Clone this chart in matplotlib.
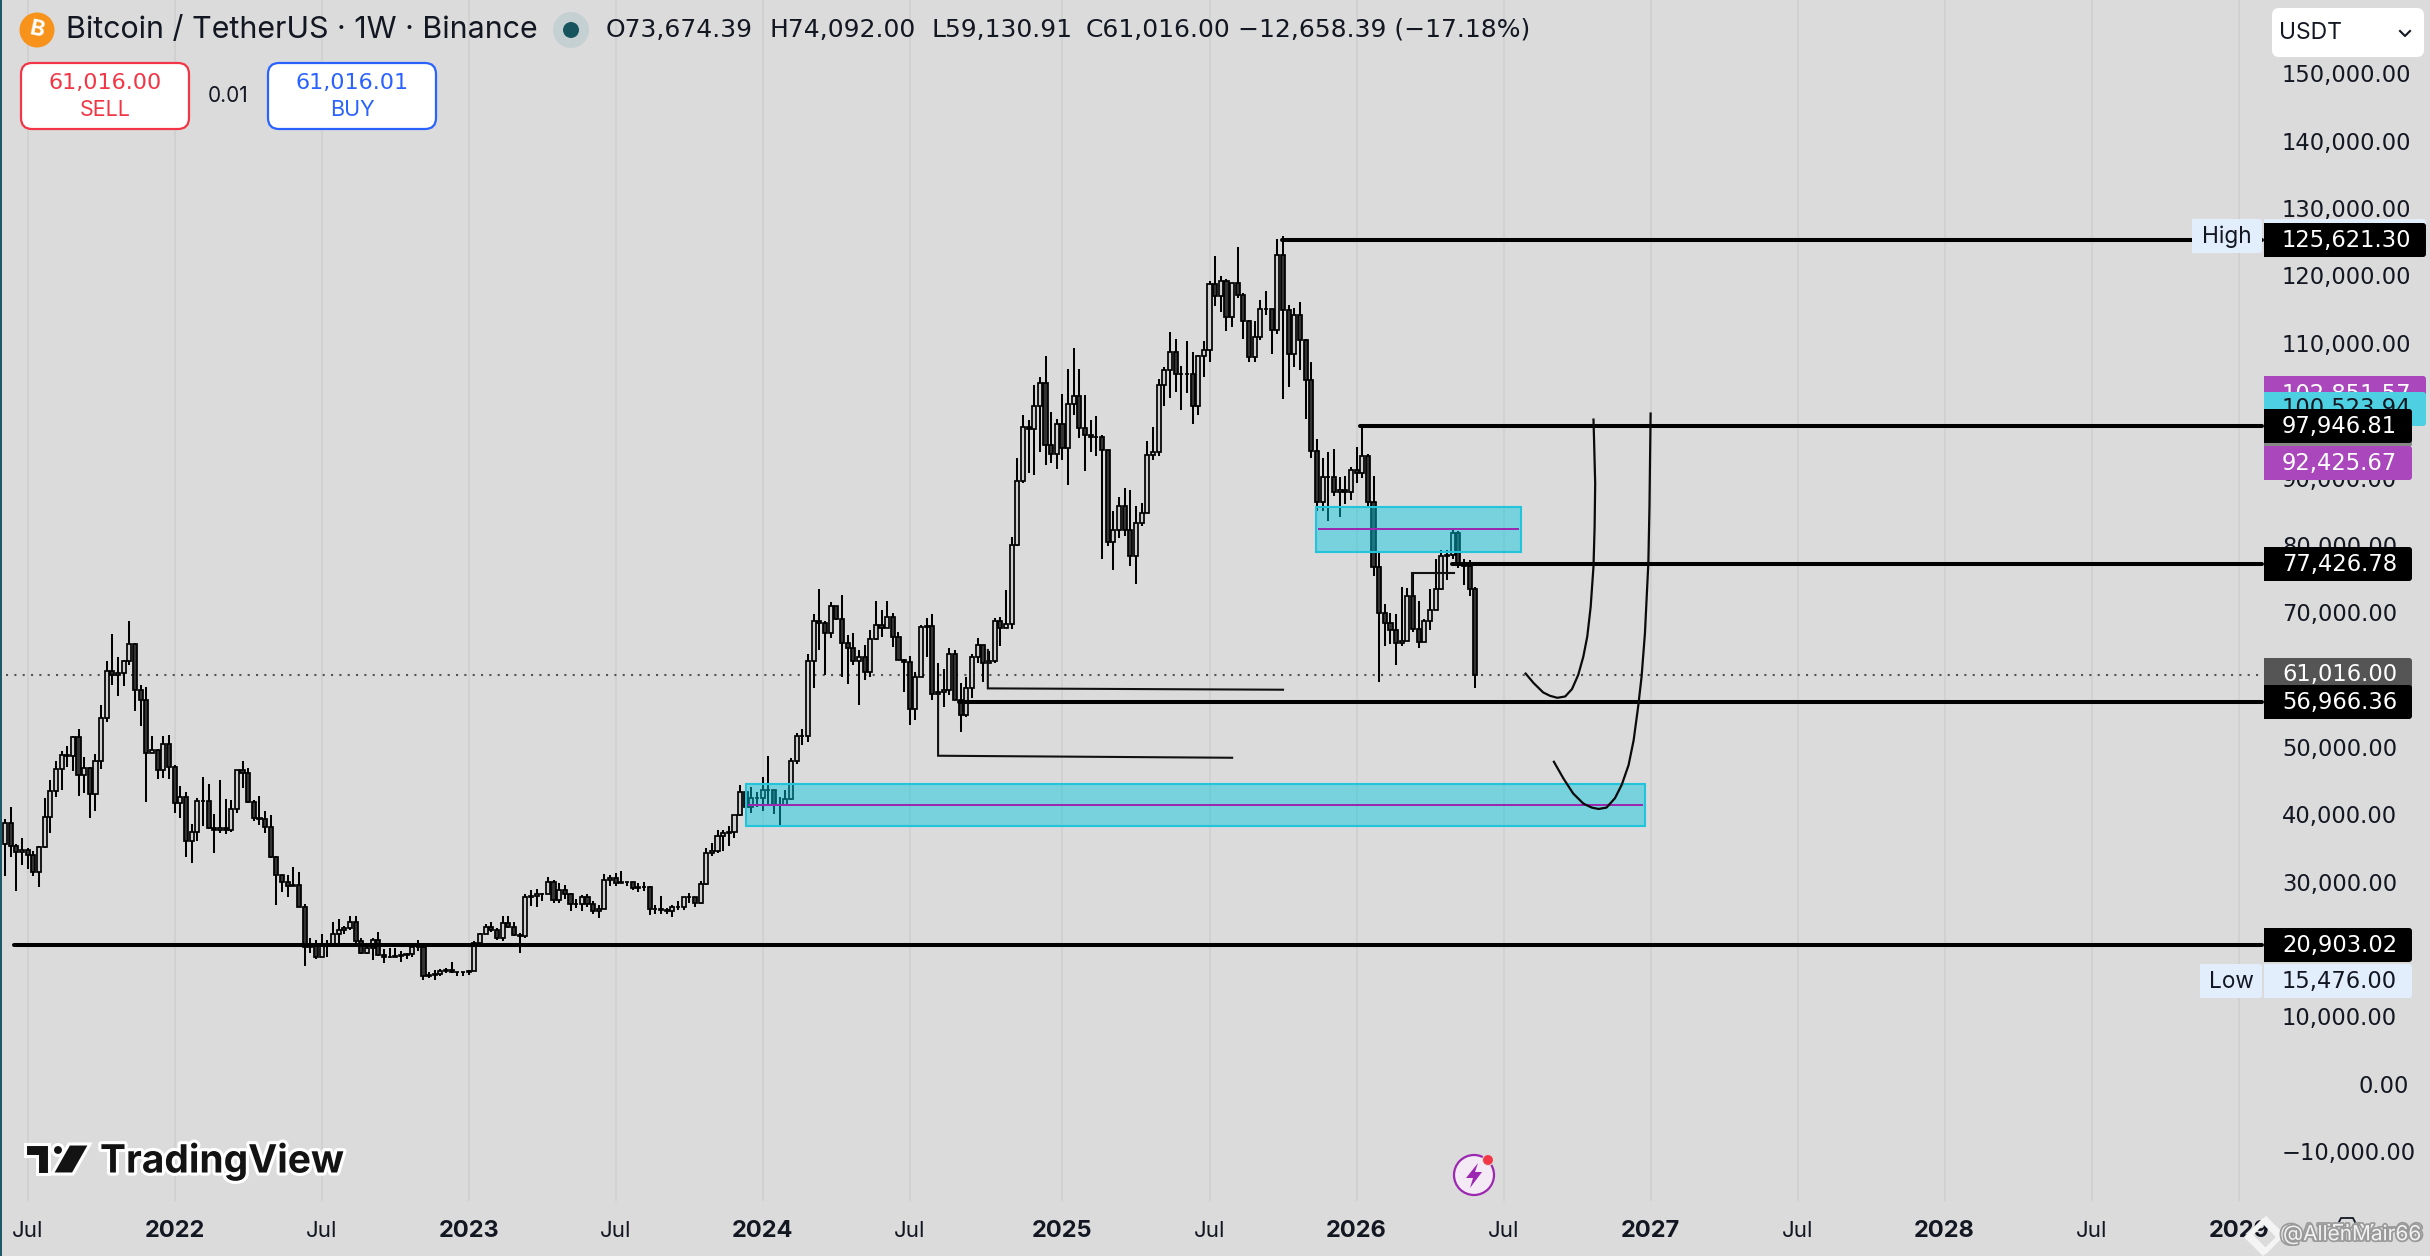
import matplotlib
matplotlib.use("Agg")
import matplotlib.pyplot as plt
import matplotlib.patheffects as pe
from matplotlib.patches import Circle, FancyBboxPatch, Rectangle, Polygon
from matplotlib.transforms import blended_transform_factory, Affine2D

# ---------- weekly candles (in thousands) ----------
first_open = 35.7
closes = [
38.9,35.5,34.6,34.9,34.2,31.7,35.3,39.7,43.6,46.9,49.0,48.8,51.6,46.0,47.0,43.1,48.0,54.4,61.3,60.8,
61.0,62.9,65.3,58.5,57.1,49.3,49.7,46.7,50.5,47.2,41.8,42.7,36.2,37.6,42.2,42.1,38.2,37.8,38.1,37.8,
41.0,46.7,46.3,42.0,39.6,39.4,38.3,33.9,31.2,30.1,29.6,29.7,26.5,20.6,20.7,19.1,20.9,21.0,22.4,23.1,
23.3,24.2,21.4,19.6,20.4,21.6,19.4,19.0,19.1,19.2,19.4,19.5,20.5,20.6,16.3,16.4,16.6,17.0,17.2,16.9,
16.8,16.8,17.0,21.1,22.4,23.5,23.0,21.8,24.1,23.5,22.3,22.1,27.9,28.1,28.3,28.4,30.1,27.5,29.0,28.4,
26.9,26.9,27.9,26.9,25.9,26.1,30.4,30.7,30.0,30.2,30.2,29.3,29.4,29.4,26.1,26.1,26.0,25.9,26.4,26.5,
27.9,27.9,27.0,29.9,34.4,34.7,36.9,37.4,37.5,40.0,43.5,41.3,42.6,42.6,43.7,43.7,41.6,41.6,42.4,48.1,
51.8,51.7,62.8,68.7,68.4,67.0,70.9,69.0,65.5,64.7,62.9,63.5,61.2,66.1,68.2,67.7,69.3,66.4,63.0,62.7,
55.8,60.5,67.8,68.0,58.0,58.3,58.6,63.9,57.1,54.8,58.9,63.4,65.2,62.6,62.8,68.7,67.7,68.3,80.0,89.4,
97.5,97.1,100.6,104.0,94.8,93.5,97.9,94.3,100.9,102.1,97.3,96.2,96.0,96.0,94.0,80.5,82.2,85.7,82.2,78.3,
83.3,84.8,93.3,93.8,103.7,105.9,108.5,105.3,105.3,105.3,100.6,107.9,108.8,118.6,116.9,119.0,113.7,118.7,117.0,113.1,
107.8,110.7,114.9,114.9,111.8,122.9,114.7,108.3,114.0,110.3,104.4,93.9,86.4,90.0,90.1,87.9,88.1,87.9,91.1,90.7,
93.2,86.3,76.7,70.0,68.5,67.4,65.5,65.8,72.5,67.6,65.7,68.7,70.4,73.5,78.3,78.5,81.8,77.3,76.9,73.5,
60.8]
highs = [
39.4,41.3,35.7,36.6,35.2,34.7,35.4,42.5,45.3,48.1,49.5,50.3,51.8,52.8,48.6,47.1,49.1,56.4,62.8,66.9,
63.5,63.0,68.8,65.5,59.3,59.0,51.8,49.8,51.7,51.9,47.5,44.4,43.4,38.8,42.6,45.7,44.7,40.2,45.3,42.4,
42.3,46.7,48.1,47.0,42.3,42.9,40.7,40.0,34.0,31.2,31.2,32.4,31.6,26.9,21.9,21.5,22.4,21.6,24.2,24.7,
23.6,25.1,25.1,21.9,20.6,21.9,22.7,20.2,20.4,20.4,20.0,19.6,21.1,21.5,20.9,16.8,17.1,17.3,17.4,18.3,
16.9,16.9,17.1,21.4,22.6,23.9,24.2,23.3,25.1,25.1,24.2,22.6,28.4,29.0,29.1,28.5,30.9,30.5,30.0,29.7,
28.5,27.6,28.2,28.4,27.3,26.8,31.3,31.2,31.5,31.8,30.2,30.0,30.0,30.2,29.6,26.7,28.1,26.3,26.8,27.3,
28.0,28.5,28.0,30.3,35.2,35.9,37.9,37.9,38.4,40.1,44.5,43.5,44.2,43.5,45.7,48.8,43.4,42.7,43.8,48.5,
52.2,52.8,63.8,69.8,73.5,68.7,71.5,70.9,72.6,66.7,67.0,64.5,65.2,67.4,71.7,70.4,71.7,70.0,67.1,63.1,
63.6,61.2,68.2,69.2,69.8,62.5,61.7,64.7,64.4,59.6,60.5,63.9,66.2,65.2,64.3,69.2,69.3,73.4,81.2,92.8,
99.3,98.5,103.7,104.8,108.0,99.6,98.6,102.4,106.0,109.1,106.0,102.2,98.5,99.1,96.2,94.1,85.0,87.1,88.4,88.2,
85.8,86.2,95.4,97.5,104.5,106.3,111.5,110.4,106.5,110.2,108.5,108.1,110.2,119.1,122.8,119.8,119.3,118.7,124.1,117.2,
113.3,113.1,116.3,117.5,114.9,125.3,125.7,115.5,115.0,115.9,110.4,107.0,95.7,92.8,93.7,94.2,90.1,90.2,91.5,94.5,
97.7,93.4,90.2,78.9,71.3,69.9,69.8,73.8,73.6,75.8,71.7,69.0,73.5,78.0,79.3,79.3,82.2,82.1,77.9,77.8,
73.8]
lows = [
31.0,33.9,28.8,32.7,32.0,31.0,29.4,35.2,37.4,42.7,43.8,47.2,46.5,42.8,43.3,39.6,40.7,46.8,53.8,59.3,
57.7,59.2,62.2,55.5,53.2,42.0,49.2,45.4,45.5,45.4,40.4,39.6,33.9,33.0,36.2,38.4,38.0,34.4,37.4,37.2,
37.5,40.3,44.0,41.8,39.1,38.6,37.4,33.7,26.7,28.6,28.0,29.5,26.4,17.7,19.7,18.8,19.1,19.0,21.0,21.1,
22.5,23.0,21.1,19.5,19.5,18.6,19.2,18.2,18.9,19.0,18.3,18.8,19.1,20.0,15.6,15.9,15.6,16.2,16.7,16.7,
16.3,16.3,16.4,17.1,20.5,22.5,22.8,21.6,21.4,23.3,22.1,19.6,21.9,26.6,26.5,27.3,28.3,27.1,27.0,27.7,
25.8,26.3,25.9,26.5,25.4,24.8,26.1,29.5,29.6,30.0,29.5,28.9,28.6,28.8,25.2,25.4,25.4,25.4,24.9,26.0,
26.0,27.1,26.5,26.9,29.7,34.0,34.4,34.8,35.5,36.7,39.9,41.0,40.4,41.3,40.7,41.6,40.2,38.6,41.6,42.3,
47.6,50.4,50.8,58.8,64.4,60.7,66.2,68.9,60.5,59.5,62.3,56.4,60.1,60.5,66.0,66.4,67.7,64.9,63.0,58.3,
53.4,54.1,60.5,63.4,57.0,57.8,56.0,57.8,57.1,52.4,54.5,57.4,62.5,59.7,62.5,62.6,65.1,67.7,67.5,79.9,
89.1,90.6,90.3,93.8,91.9,92.2,91.3,92.5,88.9,99.3,95.8,91.0,93.8,93.1,78.0,79.8,76.3,81.0,81.4,76.9,
74.3,82.8,84.8,92.5,93.1,100.5,101.7,102.7,100.0,102.5,97.9,99.3,104.8,107.1,115.4,114.4,111.6,112.3,116.5,110.4,
107.0,107.0,110.3,114.0,108.3,111.2,101.6,103.3,106.4,105.9,98.7,92.8,85.1,85.1,83.6,87.3,84.2,86.1,86.6,89.1,
89.9,85.7,75.4,59.8,65.0,65.4,62.3,65.1,65.8,67.2,64.8,65.6,67.4,70.4,73.4,74.8,78.0,76.6,74.1,72.4,
58.9]
candle_unit = 1003.6   # USDT per unit of the three lists above

# ---------- price levels and drawings ----------
y_ticks = [150000,140000,130000,120000,110000,90000,80000,70000,50000,40000,30000,10000,0,-10000]
y_tick_texts = ["150,000.00","140,000.00","130,000.00","120,000.00","110,000.00","90,000.00","80,000.00",
                "70,000.00","50,000.00","40,000.00","30,000.00","10,000.00","0.00","\u221210,000.00"]
x_ticks = [4,30,56,82,108,134,160,187,213,239,265,291,317,343,369,395]
x_tick_texts = ["Jul","2022","Jul","2023","Jul","2024","Jul","2025","Jul","2026","Jul","2027","Jul","2028","Jul","2029"]

level_prices = [125621.30, 97946.81, 77426.78, 56966.36, 20903.02]
level_starts = [225.8, 239.6, 255.8, 168.7, 1.6]
last_price = 61016.0

zone_left = [231.8, 131.0]
zone_right = [268.0, 290.0]
zone_top = [85930, 44770]
zone_bottom = [79250, 38500]
zone_mid = [82660, 41650]

curve1_week = [268.9,270.3,272.0,273.2,274.5,275.9,277.1,278.2,279.1,279.8,280.4,280.9,281.1,281.2,281.0,280.9]
curve1_price = [61200,59800,58400,57900,57600,57800,58900,61000,63700,66700,71100,77100,83000,89400,95900,98900]
curve2_week = [273.9,275.6,277.3,279.1,280.6,281.8,283.2,284.7,285.9,287.1,288.0,288.8,289.4,290.0,290.6,290.8,290.9,291.0]
curve2_price = [48100,45600,43400,41900,41300,41100,41300,42700,44700,47600,51300,56300,60700,67200,77600,86000,92900,99800]

ray1_week = [173.8,173.8,226.0]
ray1_price = [64700,59000,58800]
ray2_week = [165.0,165.0,217.0]
ray2_price = [58300,49000,48700]
ray3_week = [248.8,248.8,256.3]
ray3_price = [72800,76100,76100]

ohlc_texts = ["O73,674.39", "H74,092.00", "L59,130.91", "C61,016.00", "\u221212,658.39 (\u221217.18%)"]

# ---------- figure ----------
W, H = 2430, 1260
BG = "#dbdbdb"
NUM = ["DejaVu Sans"]
plt.rcParams['font.family'] = ['Inter', 'DejaVu Sans']
fig = plt.figure(figsize=(W/100, H/100), dpi=100, facecolor=BG)
ax = fig.add_axes([0, 0, 1, 1], facecolor=BG)
ax.set_xlim((0-5)/5.655, (W-5)/5.655)
ax.set_ylim((1085.8-H)/6.736*1000, (1085.8-0)/6.736*1000)
ax.axis("off")
ui = fig.add_axes([0, 0, 1, 1], facecolor="none")
ui.set_xlim(0, W)
ui.set_ylim(H, 0)
ui.axis("off")
x_in_ui_y_px = blended_transform_factory(ax.transData, ui.transData)
x_px_y_price = blended_transform_factory(ui.transData, ax.transData)

# grid
for t in x_ticks:
    ax.plot([t, t], [0, 1200], transform=x_in_ui_y_px, color="#d1d1d1", lw=1.3, zorder=1)

# last price dotted
ax.plot([6, 2262], [last_price]*2, transform=x_px_y_price, color="#555555", lw=1.5,
        linestyle=(0, (1, 3)), zorder=2, dash_capstyle="butt")

# candles
opens = [first_open] + closes[:-1]
idx = list(range(len(closes)))
ax.vlines(idx, [v*candle_unit for v in lows], [v*candle_unit for v in highs], color="black", lw=1.45, zorder=3)
for up in (True, False):
    sel = [i for i in idx if (closes[i] >= opens[i]) == up]
    ax.bar(sel, [abs(closes[i]-opens[i])*candle_unit for i in sel],
           bottom=[min(closes[i], opens[i])*candle_unit for i in sel],
           width=0.72, facecolor="#cfcfcf" if up else "#333333", edgecolor="black", linewidth=1.25, zorder=4)

# zones
for l, r, t, b, m in zip(zone_left, zone_right, zone_top, zone_bottom, zone_mid):
    ax.add_patch(Rectangle((l, b), r-l, t-b, facecolor="#00c8e0", alpha=0.45, edgecolor="none", zorder=5))
    ax.add_patch(Rectangle((l, b), r-l, t-b, facecolor="none", edgecolor="#22c4dc", lw=1.5, zorder=5.1))
    ax.plot([l+0.3, r-0.3], [m, m], color="#9c27b0", lw=1.45, zorder=5.2, solid_capstyle="butt")

# thick levels
for p, s in zip(level_prices, level_starts):
    ax.plot([s, (2262-5)/5.655], [p, p], color="black", lw=2.9, zorder=6, solid_capstyle="round")

# thin drawings
for xs, ys in ((ray1_week, ray1_price), (ray2_week, ray2_price), (ray3_week, ray3_price)):
    ax.plot(xs, ys, color="#111111", lw=1.5, zorder=6, solid_joinstyle="miter")
ax.plot(curve1_week, curve1_price, color="#0a0a0a", lw=1.6, zorder=6)
ax.plot(curve2_week, curve2_price, color="#0a0a0a", lw=1.6, zorder=6)

# ---------- axis texts ----------
TICK_FS = 16.3
TICK_COLOR = "#131722"
tick_lift = x_px_y_price + Affine2D().translate(0, 2)
for v, s in zip(y_ticks, y_tick_texts):
    x0 = 2358 if v == 0 else 2282
    ui.text(x0, v, s, transform=tick_lift, ha="left", va="center_baseline", fontsize=TICK_FS, color=TICK_COLOR,
            family=NUM, zorder=5)
for t, s in zip(x_ticks, x_tick_texts):
    bold = s != "Jul"
    ui.text(t, 1231, s, transform=x_in_ui_y_px, ha="center", va="center", fontsize=17 if bold else 16,
            fontweight="bold" if bold else "normal", color=TICK_COLOR, zorder=5)

# ---------- price tags ----------
def tag(x0, x1, y0, y1, color, text, txt_color, tx=2282, z=6, tyc=None, family=NUM):
    ui.add_patch(FancyBboxPatch((x0, y0), x1-x0, y1-y0, boxstyle="round,pad=0,rounding_size=3",
                                facecolor=color, edgecolor="none", zorder=z))
    ui.add_patch(Rectangle((x0, y0), (x1-x0)/2, y1-y0, facecolor=color, edgecolor="none", zorder=z))
    if text:
        ui.text(tx, tyc if tyc else (y0+y1)/2 - 2, text, ha="left", va="center_baseline", fontsize=TICK_FS,
                color=txt_color, family=family, zorder=z)

WORD = ["Inter", "DejaVu Sans"]
tag(2192, 2262, 219, 253, "#e3eefd", "High", TICK_COLOR, tx=2202, z=6, family=WORD)
tag(2264, 2426, 219, 253, "#e3eefd", "", TICK_COLOR, z=6)
tag(2264, 2426, 223, 257, "#000000", "125,621.30", "white", z=6.2)
tag(2264, 2426, 376, 410, "#ab47bc", "102,851.57", "white", z=6.3, tyc=392)
tag(2264, 2426, 392, 426, "#4dd0e1", "100,523.94", "#131722", z=6.4, tyc=406)
tag(2264, 2412, 430, 447, "#888888", "", "white", z=6.45)
tag(2264, 2412, 409, 443, "#000000", "97,946.81", "white", z=6.6)
tag(2264, 2412, 446, 480, "#ab47bc", "92,425.67", "white", z=6.5)
tag(2264, 2412, 547, 581, "#000000", "77,426.78", "white", z=6.6)
tag(2264, 2412, 658, 692, "#555555", "61,016.00", "white", z=6.3, tyc=672)
tag(2264, 2412, 685, 719, "#000000", "56,966.36", "white", z=6.6)
tag(2264, 2412, 928, 962, "#000000", "20,903.02", "white", z=6.6)
tag(2200, 2262, 964, 998, "#e3eefd", "Low", TICK_COLOR, tx=2209, z=6, family=WORD)
tag(2264, 2412, 964, 998, "#e3eefd", "15,476.00", TICK_COLOR, z=6)

# ---------- header ----------
ui.add_patch(Circle((37, 30), 17.5, facecolor="#f7931a", edgecolor="none", zorder=7))
ui.text(37, 30, "B", ha="center", va="center", fontsize=16, color="white", rotation=-12,
        fontweight="bold", zorder=8)
ui.text(66, 30, "Bitcoin / TetherUS \u00b7 1W \u00b7 Binance", ha="left", va="center", fontsize=21.9, color="#131722", zorder=8)
ui.add_patch(Circle((571, 30), 18, facecolor="#c5d0d2", edgecolor="none", zorder=7))
ui.add_patch(Circle((571, 30), 8, facecolor="#17555e", edgecolor="none", zorder=8))
for x0, s in zip([606, 770, 931, 1086, 1238], ohlc_texts):
    ui.text(x0, 30, s, ha="left", va="center", fontsize=18, color="#131722", family=NUM, zorder=8)

def order_box(x0, x1, color, price, label):
    ui.add_patch(FancyBboxPatch((x0, 63), x1-x0, 66, boxstyle="round,pad=0,rounding_size=11",
                                facecolor="white", edgecolor=color, lw=1.6, zorder=7))
    c = (x0+x1)/2
    ui.text(c, 83, price, ha="center", va="center", fontsize=16, color=color, family=NUM, zorder=8)
    ui.text(c, 110, label, ha="center", va="center", fontsize=15.5, color=color, zorder=8)

order_box(21, 189, "#f23645", "61,016.00", "SELL")
order_box(268, 436, "#2962ff", "61,016.01", "BUY")
ui.text(228, 96, "0.01", ha="center", va="center", fontsize=15, color="#131722", zorder=8)

# USDT selector
ui.add_patch(FancyBboxPatch((2272, 8), 152, 49, boxstyle="round,pad=0,rounding_size=7",
                            facecolor="white", edgecolor="none", zorder=7))
ui.text(2279, 33, "USDT", ha="left", va="center", fontsize=16.5, color="#131722", zorder=8)
ui.plot([2400, 2405, 2410], [31, 36, 31], color="#131722", lw=1.5, zorder=8)

# left edge and bottom strip
ui.add_patch(Rectangle((0, 0), 2, 1256, facecolor="#1c5a6a", edgecolor="none", zorder=9))
ui.add_patch(Rectangle((0, 1256), W, 4, facecolor="#f7f7f7", edgecolor="none", zorder=9))

# ---------- TradingView logo ----------
halo = [pe.withStroke(linewidth=4.5, foreground="white")]
ui.text(100, 1161, "TradingView", ha="left", va="center", fontsize=28, fontweight="bold", color="#131313",
        path_effects=halo, zorder=8)
logo = [Polygon([(25, 1144), (49, 1144), (49, 1174), (37, 1174), (37, 1156), (25, 1156)], closed=True),
        Circle((58, 1150), 5.5),
        Polygon([(69, 1144), (90, 1144), (73, 1174), (52, 1174)], closed=True)]
for p in logo:
    p.set(facecolor="#131313", edgecolor="white", lw=2.2, zorder=8)
    ui.add_patch(p)

# lightning badge
ui.add_patch(Circle((1474, 1175), 20, facecolor="#f4eaf6", edgecolor="#9c27b0", lw=1.6, zorder=7))
ui.add_patch(Polygon([(1478, 1163), (1466, 1178), (1473, 1178), (1470, 1188), (1482, 1172), (1475, 1172)],
                     closed=True, facecolor="#9c27b0", edgecolor="none", zorder=8))
ui.add_patch(Circle((1488, 1160), 5.5, facecolor="#f23645", edgecolor="#dbdbdb", lw=0.8, zorder=8))

# settings hexagon
ui.plot([2335, 2341, 2353, 2359], [1230, 1218, 1218, 1230], color="#131722", lw=1.3, zorder=8)

# watermark
wm = [pe.withStroke(linewidth=2.5, foreground="#9a9a9a")]
for dx, dy in ((0, 0), (3, -2)):
    ui.add_patch(Polygon([(2263+dx, 1221+dy), (2279+dx, 1237+dy), (2263+dx, 1253+dy), (2247+dx, 1237+dy)], closed=True,
                         facecolor="none", edgecolor="#f4f4f4", lw=3.2, zorder=9))
for dx, s in ((0, "@ATEKYar66"), (3, "@AllenMair66")):
    ui.text(2280+dx, 1234, s, ha="left", va="center", fontsize=16 if dx == 0 else 15, color="#f2f2f2",
            path_effects=wm, zorder=9)

fig.savefig("out.png", dpi=100, facecolor=BG)
